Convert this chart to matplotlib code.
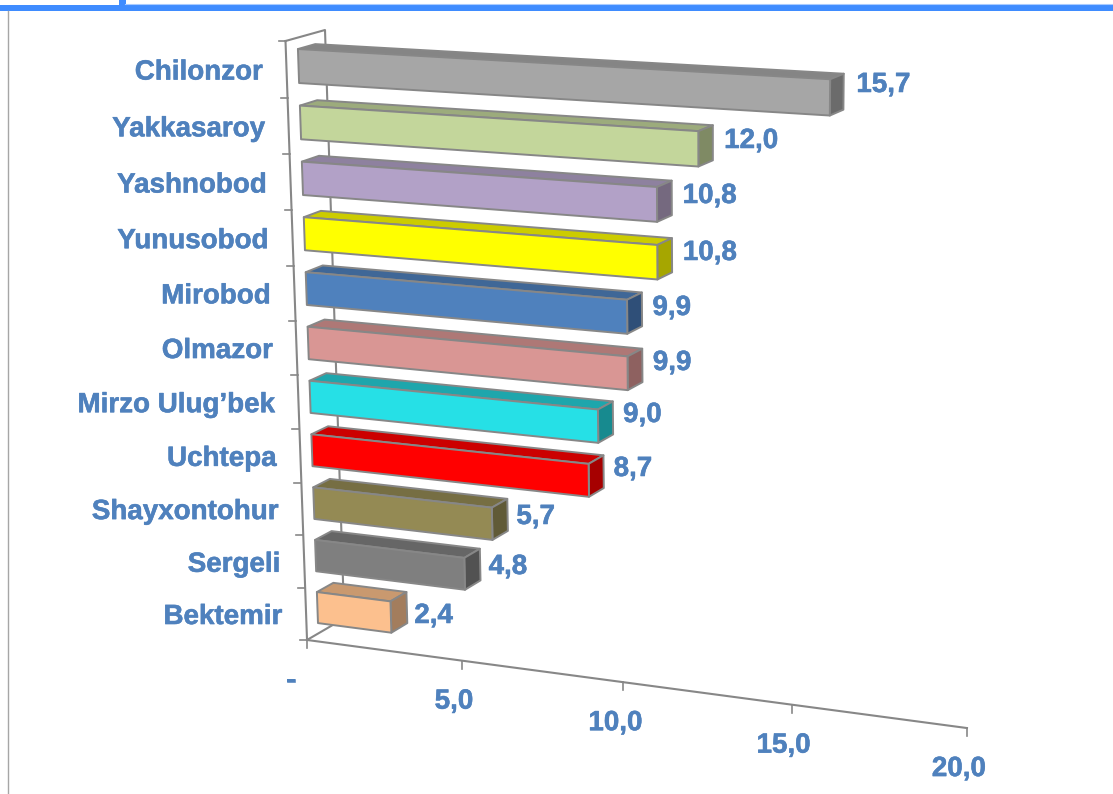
import numpy as np
import matplotlib
matplotlib.use("Agg")
import matplotlib.pyplot as plt
import matplotlib.patheffects as pe

plt.rcParams["font.family"] = ["Liberation Sans", "DejaVu Sans"]

districts = ["Chilonzor", "Yakkasaroy", "Yashnobod", "Yunusobod", "Mirobod", "Olmazor",
             "Mirzo Ulug\u2019bek", "Uchtepa", "Shayxontohur", "Sergeli", "Bektemir"]
values = [15.7, 12.0, 10.8, 10.8, 9.9, 9.9, 9.0, 8.7, 5.7, 4.8, 2.4]
value_labels = ["15,7", "12,0", "10,8", "10,8", "9,9", "9,9", "9,0", "8,7", "5,7", "4,8", "2,4"]
front_colors = ["#A6A6A6", "#C3D69B", "#B2A1C7", "#FFFF00", "#4F81BD", "#D99694",
                "#26E0E6", "#FF0000", "#948A54", "#7F7F7F", "#FCC08E"]
top_colors = ["#858585", "#9CAB7C", "#8E819F", "#CCCC00", "#3F6797", "#AE7876",
              "#1EA6AC", "#CC0000", "#766E43", "#666666", "#C9996F"]
side_colors = ["#6B6B6B", "#7F8A64", "#75697F", "#A6A600", "#2F4F78", "#8E6160",
               "#178A8F", "#A60000", "#605A37", "#525252", "#A37D5D"]
x_ticks = [0, 5, 10, 15, 20]
x_tick_labels = ["-", "5,0", "10,0", "15,0", "20,0"]

# y of each value label, these drift with bar length in the original
value_label_y = [85, 141, 196, 253, 308, 363, 415, 469, 517, 567, 616]

TEXT = "#4F81BD"
LINE = "#878787"
GAP = 0.2  # gap at either side of a bar inside its slot
Z_FRONT, Z_BACK = 0.30, 0.74
BOLD = [pe.withStroke(linewidth=0.4, foreground=TEXT)]


def project(v, s, z=0.0):
    # perspective camera of the 3d chart: v value, s category slot, z depth
    w = 1 - 0.00415 * v + 0.0047 * s + 0.02 * z
    x = (285.5 + 30.69 * v + 3.4 * s + 46 * z) / w
    y = (41 + 1.61 * v + 57.46 * s - 10.4 * z) / w
    return x, y


def face(ax, pts, color):
    xs, ys = zip(*pts)
    ax.fill(xs, ys, facecolor=color, edgecolor=LINE, linewidth=1.4, joinstyle="round", zorder=5)


def label(ax, x, y, text, **kwargs):
    ax.text(x, y, text, color=TEXT, fontsize=20, fontweight="bold", va="center",
            path_effects=BOLD, zorder=6, **kwargs)


fig = plt.figure(figsize=(11.13, 7.94), dpi=100, facecolor="w")
ax = fig.add_axes([0, 0, 1, 1])
ax.set_xlim(0, 1113)
ax.set_ylim(794, 0)
ax.axis("off")

# slide furniture
ax.fill([0, 1113, 1113, 0], [4.7, 4.7, 10.7, 10.7], color="#3F8CFF", lw=0)
ax.fill([119, 125.5, 125.5, 119], [0, 0, 5, 5], color="#3F8CFF", lw=0)
ax.plot([125, 1113], [4.2, 4.2], color="#A9CBFF", lw=0.8)
ax.plot([7.5, 7.5], [11, 794], color="#A6A6A6", lw=1.0)

n = len(districts)

# back wall and floor edge
wall = [project(0, 0, 0), project(0, 0, 1), project(0, n, 1), project(0, n, 0)]
ax.plot(*zip(*wall), color=LINE, lw=1.5)

# axes with their ticks
cat_axis = [project(0, 0), project(0, n)]
ax.plot(*zip(*cat_axis), color=LINE, lw=1.5)
val_axis = [project(v, n) for v in np.linspace(0, x_ticks[-1], 2)]
ax.plot(*zip(*val_axis), color=LINE, lw=1.5)
for s in range(n + 1):
    x, y = project(0, s)
    ax.plot([x - 7, x], [y, y], color=LINE, lw=1.2)
for v, tick_label in zip(x_ticks, x_tick_labels):
    x, y = project(v, n)
    ax.plot([x, x], [y, y + 8], color=LINE, lw=1.2)
    shift = -16 if v == 0 else -8
    label(ax, x + shift, y + 41, tick_label, ha="center")

# bars, top one first
for i, v in enumerate(values):
    s0, s1 = i + GAP, i + 1 - GAP
    front = [project(0, s0, Z_FRONT), project(v, s0, Z_FRONT),
             project(v, s1, Z_FRONT), project(0, s1, Z_FRONT)]
    top = [project(0, s0, Z_FRONT), project(0, s0, Z_BACK),
           project(v, s0, Z_BACK), project(v, s0, Z_FRONT)]
    side = [project(v, s0, Z_FRONT), project(v, s0, Z_BACK),
            project(v, s1, Z_BACK), project(v, s1, Z_FRONT)]
    face(ax, top, top_colors[i])
    face(ax, side, side_colors[i])
    face(ax, front, front_colors[i])

    x, y = project(0, i + 0.5)
    label(ax, x - 24, y + 3, districts[i], ha="right")
    x, _ = project(v, i + 0.5, Z_BACK)
    label(ax, x + 6.5 + 0.4 * v, value_label_y[i], value_labels[i], ha="left")

plt.savefig("out.png", dpi=100)
